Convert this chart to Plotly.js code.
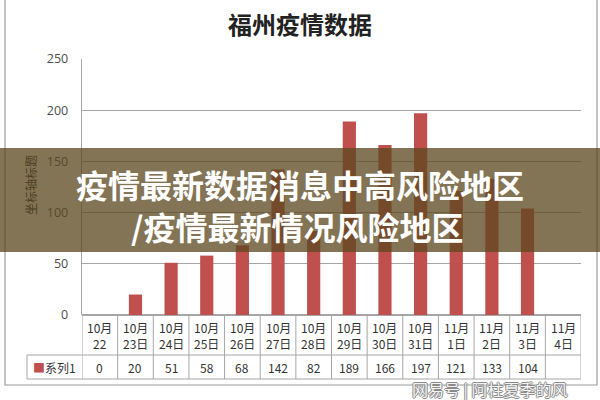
<!DOCTYPE html>
<html>
<head>
<meta charset="utf-8">
<script src="https://cdn.plot.ly/plotly-3.0.1.min.js"></script>
<style>html,body{margin:0;padding:0;background:#fff;}#chart{width:600px;height:400px;}</style>
</head>
<body>
<div id="chart"></div>
<script>
// ---- data ----
const chartTitle = '福州疫情数据';
const yTitle = '坐标轴标题';
const seriesName = '系列1';
const dateMonths = ['10月','10月','10月','10月','10月','10月','10月','10月','10月','10月','11月','11月','11月','11月'];
const dateDays = ['22','23日','24日','25日','26日','27日','28日','29日','30日','31日','1日','2日','3日','4日'];
const values = [0, 20, 51, 58, 68, 142, 82, 189, 166, 197, 121, 133, 104, null];
const yTicks = [0, 50, 100, 150, 200, 250];
const bannerLines = ['疫情最新数据消息中高风险地区', '/疫情最新情况风险地区'];
const watermark = '网易号 | 阿柱夏季的风';

const categories = dateMonths.map((m, i) => m + dateDays[i]);
const barColor = '#c0504d';
const lineColor = '#a6a6a6';
const font = 'Noto Sans CJK SC, Noto Sans, sans-serif';

// table geometry in paper coords (plot area 256px tall)
const rowDateBottom = -40 / 256;
const rowValBottom = -64 / 256;

const shapes = [];
const annotations = [];
const ann = (o) => annotations.push(Object.assign({showarrow:false, xanchor:'center', yanchor:'middle', borderpad:0}, o));

// outer chart frame
shapes.push({type:'rect', xref:'paper', yref:'paper', x0:-77/499, x1:515/499, y0:-70/256, y1:1.4,
  line:{color:'#9a9a9a', width:1.2}, layer:'below'});

// table vertical lines
for (let k = 0; k <= categories.length; k++) {
  shapes.push({type:'line', xref:'x', yref:'paper', x0:k-0.5, x1:k-0.5, y0:0, y1:rowValBottom,
    line:{color:lineColor, width:1}});
}
// table horizontal lines
shapes.push({type:'line', xref:'paper', yref:'paper', x0:-55/499, x1:1, y0:rowDateBottom, y1:rowDateBottom, line:{color:lineColor, width:1}});
shapes.push({type:'line', xref:'paper', yref:'paper', x0:-55/499, x1:1, y0:rowValBottom, y1:rowValBottom, line:{color:lineColor, width:1}});
shapes.push({type:'line', xref:'paper', yref:'paper', x0:-55/499, x1:-55/499, y0:rowDateBottom, y1:rowValBottom, line:{color:lineColor, width:1}});

// table texts
categories.forEach((c, i) => {
  ann({xref:'x', yref:'paper', x:c, y:rowDateBottom/2, text:dateMonths[i] + '<br>' + dateDays[i],
    font:{family:font, size:12, color:'#333'}, align:'center'});
  if (values[i] !== null) {
    ann({xref:'x', yref:'paper', x:c, y:(rowDateBottom + rowValBottom)/2, text:String(values[i]),
      font:{family:font, size:12, color:'#333'}});
  }
});
ann({xref:'paper', yref:'paper', x:-27.5/499, y:(rowDateBottom + rowValBottom)/2,
  text:'<span style="color:' + barColor + '">■</span>' + seriesName,
  font:{family:font, size:12, color:'#333'}});

// y-axis title (under banner -> darkened tone)
ann({xref:'paper', yref:'paper', x:-52/499, y:130/256, text:yTitle, textangle:-90,
  font:{family:font, size:12, color:'#4a3d22'}});

// banner
shapes.push({type:'rect', xref:'paper', yref:'paper', x0:-0.2, x1:1.1, y0:(315-252)/256, y1:(315-148)/256,
  fillcolor:'rgba(92,72,32,0.76)', line:{width:0}, layer:'above'});
ann({xref:'paper', yref:'paper', x:218/499, y:(315-184)/256, text:'<b>' + bannerLines[0] + '</b>',
  font:{family:font, size:32, color:'#ffffff'}});
ann({xref:'paper', yref:'paper', x:215/499, y:(315-226)/256, text:'<b>' + bannerLines[1] + '</b>',
  font:{family:font, size:32, color:'#ffffff'}});

// watermark
ann({xref:'paper', yref:'paper', x:408/499, y:-74/256, text:watermark,
  font:{family:font, size:16, color:'#f4f4f4', shadow:'-1px 0 #8a8a8a, 1px 0 #8a8a8a, 0 -1px #8a8a8a, 0 1px #8a8a8a'}});

const data = [{
  type:'bar', x:categories, y:values, name:seriesName,
  marker:{color:barColor}, hoverinfo:'skip'
}];

const layout = {
  width:600, height:400,
  margin:{l:82, r:19, t:59, b:85},
  paper_bgcolor:'#ffffff', plot_bgcolor:'#ffffff',
  showlegend:false,
  bargap:0.63,
  title:{text:'<b>' + chartTitle + '</b>', x:0.5, xanchor:'center', y:0.935, yanchor:'middle',
    font:{family:font, size:24, color:'#222222'}},
  xaxis:{type:'category', categoryorder:'array', categoryarray:categories, range:[-0.5, categories.length-0.5],
    showticklabels:false, showgrid:false, zeroline:false, showline:false, ticks:''},
  yaxis:{range:[0,250], tickvals:yTicks, ticktext:yTicks.map(String), showgrid:true, gridcolor:lineColor, gridwidth:1.3,
    zeroline:true, zerolinecolor:lineColor, zerolinewidth:1.3,
    showline:true, linecolor:lineColor, linewidth:1.3, ticks:'', ticklabelstandoff:10,
    tickfont:{family:'Open Sans, sans-serif', size:12.5, color:'#4d4d4d'}},
  shapes:shapes,
  annotations:annotations
};

Plotly.newPlot('chart', data, layout, {displayModeBar:false, staticPlot:true});
</script>
</body>
</html>
